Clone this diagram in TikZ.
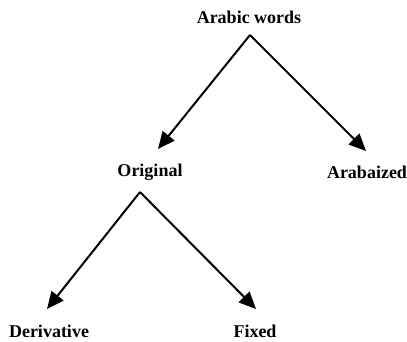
\documentclass[tikz,border=0pt]{standalone}
\usepackage{fontspec}
\setmainfont{Liberation Serif}
\usetikzlibrary{arrows.meta}
\begin{document}
\begin{tikzpicture}[x=1pt,y=-1pt,
  lbl/.style={font=\fontsize{18}{20}\selectfont\bfseries, inner sep=0pt},
  arr/.style={line width=2pt, -{Triangle[length=17pt,width=15pt]}}]
\useasboundingbox (0,0) rectangle (407,341);
\node[lbl] (aw) at (249,17) {Arabic words};
\node[lbl] (orig) at (150,172) {Original};
\node[lbl] (arab) at (367,172) {Arabaized};
\node[lbl] (der) at (49,331) {Derivative};
\node[lbl] (fix) at (255,331) {Fixed};
\coordinate (a1) at (250,35);
\coordinate (t1l) at (158,149);
\coordinate (t1r) at (366,151);
\coordinate (a2) at (140,192);
\coordinate (t2l) at (47,309);
\coordinate (t2r) at (256,309);
\draw[arr] (a1) -- (t1l);
\draw[arr] (a1) -- (t1r);
\draw[arr] (a2) -- (t2l);
\draw[arr] (a2) -- (t2r);
\end{tikzpicture}
\end{document}
